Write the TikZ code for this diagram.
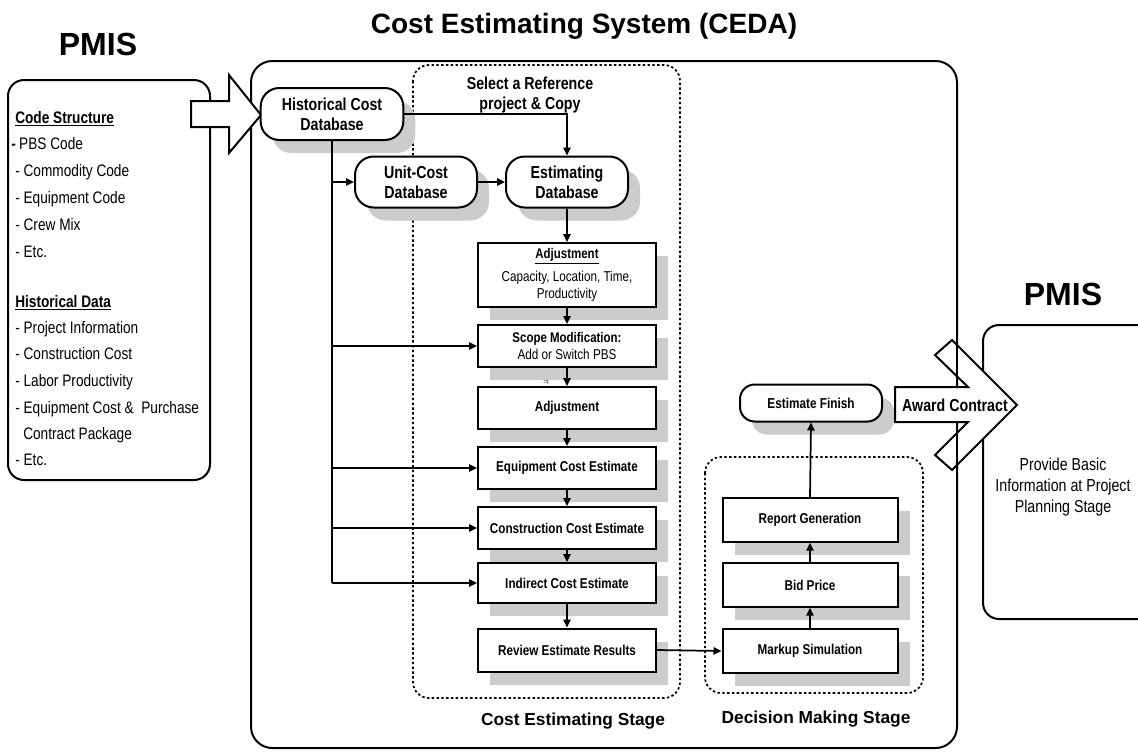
\documentclass[tikz,border=0pt]{standalone}
\usepackage{fontspec}
\setmainfont{Liberation Sans}
\newfontfamily\nf[FakeStretch=0.82]{Liberation Sans}
\newfontfamily\krf{Noto Sans CJK KR}
\usetikzlibrary{shadows,arrows.meta}
\begin{document}
\begin{tikzpicture}[x=0.75pt,y=-0.75pt,
  shd/.style={drop shadow={shadow xshift=9pt,shadow yshift=-9.75pt,opacity=1,fill=black!20,draw=none}},
  term/.style={draw,line width=1.5pt,fill=white,rounded corners=14pt,inner sep=0pt,align=center,
    font=\nf\bfseries\fontsize{13}{15}\selectfont,shd},
  pbox/.style={draw,line width=1.5pt,fill=white,inner sep=0pt,align=center,
    minimum width=133.5pt,minimum height=31.5pt,font=\nf\bfseries\fontsize{10.7}{12.8}\selectfont,shd},
  arr/.style={line width=1.3pt,-{Triangle[length=6pt,width=5.5pt]}},
  ln/.style={line width=1.3pt},
  stagebox/.style={dash pattern=on 1.8pt off 1.8pt,line width=1.3pt,rounded corners=12pt},
  cont/.style={line width=1.5pt,rounded corners=12pt},
  lt/.style={anchor=base west,inner sep=0pt,font=\nf\fontsize{12.5}{15}\selectfont},
  big/.style={anchor=base,inner sep=0pt,font=\bfseries\fontsize{24}{28}\selectfont},
  stagelbl/.style={anchor=base,inner sep=0pt,font=\bfseries\fontsize{13}{15}\selectfont}
]
\useasboundingbox (0,0) rectangle (1138,751);
\clip (0,0) rectangle (1138,751);

% titles
\node[anchor=base,inner sep=0pt,font=\bfseries\fontsize{21}{25}\selectfont] (title) at (584,33) {Cost Estimating System (CEDA)};
\node[big] (pmisL) at (98,55) {PMIS};
\node[big] (pmisR) at (1063,305) {PMIS};

% containers
\draw[cont] (8,80) rectangle (210,480);
\draw[cont,rounded corners=16pt] (251,61) rectangle (957,748);
\draw[cont] (983,325) rectangle (1160,619);
\draw[stagebox] (413,65) rectangle (680,698);
\draw[stagebox] (705,457) rectangle (923,693);

% left input arrow
\draw[line width=1.5pt,fill=white,line join=miter] (191,101) -- (229,101) -- (229,75) -- (261,115) -- (229,153) -- (229,127) -- (191,127) -- cycle;

% left list
\node[lt] (l0) at (15,123) {\bfseries\underline{Code Structure}};
\node[lt] (l1) at (11,149) {\textbf{-}\hspace{2.5pt}PBS Code};
\node[lt] (l2) at (15,176) {- Commodity Code};
\node[lt] (l3) at (15,203) {- Equipment Code};
\node[lt] (l4) at (15,230) {- Crew Mix};
\node[lt] (l5) at (15,257) {- Etc.};
\node[lt] (l6) at (15,307) {\bfseries\underline{Historical Data}};
\node[lt] (l7) at (15,333) {- Project Information};
\node[lt] (l8) at (15,359) {- Construction Cost};
\node[lt] (l9) at (15,386) {- Labor Productivity};
\node[lt] (l10) at (15,413) {- Equipment Cost \& \ Purchase};
\node[lt] (l11) at (23,439) {Contract Package};
\node[lt] (l12) at (15,465) {- Etc.};

% select label
\node[align=center,inner sep=0pt,font=\nf\bfseries\fontsize{13}{15}\selectfont] (sel) at (530,95) {Select a Reference\\project \& Copy};

% terminators
\node[term,minimum width=107pt,minimum height=39pt] (hist) at (332,114) {Historical Cost\\Database};
\node[term,minimum width=91.5pt,minimum height=38.25pt] (unit) at (416,182) {Unit-Cost\\Database};
\node[term,minimum width=91.5pt,minimum height=38.25pt] (estdb) at (567,182) {Estimating\\Database};
\node[term,rounded corners=11pt,minimum width=106.5pt,minimum height=27.75pt,font=\nf\bfseries\fontsize{10.8}{13}\selectfont] (finish) at (811,403) {Estimate Finish};

% process boxes
\node[pbox,minimum height=48pt] (adj1) at (567,275) {\fontsize{10.5}{11.25}\selectfont\underline{Adjustment}\\[4.5pt]\mdseries Capacity, Location, Time,\\\mdseries Productivity};
\node[pbox] (scope) at (567,346) {\fontsize{10.5}{12.75}\selectfont Scope Modification:\\\mdseries Add or Switch PBS};
\node[pbox] (adj2) at (567,408) {Adjustment};
\node[pbox] (equip) at (567,468) {Equipment Cost Estimate};
\node[pbox] (constr) at (567,528) {Construction Cost Estimate};
\node[pbox,minimum height=30pt] (indir) at (567,583) {Indirect Cost Estimate};
\node[pbox,minimum height=32.25pt] (review) at (567,650) {Review Estimate Results};
\node[pbox,minimum width=131.25pt,minimum height=32.5pt] (markup) at (810,651) {Markup Simulation};
\node[pbox,minimum width=131.25pt,minimum height=32.5pt] (bid) at (810,585) {Bid Price};
\node[pbox,minimum width=131.25pt,minimum height=32.5pt] (report) at (810,520) {Report Generation};

% stray glyph
\node[inner sep=0pt,font=\krf\fontsize{6}{6}\selectfont,text=black!70] (glyph) at (546,383) {ㅋ};

% connectors
\draw[arr] (hist.east) -| (estdb.north);
\draw[ln] (hist.south) -- (hist.south |- indir.west);
\draw[arr] (hist.south |- unit.west) -- (unit.west);
\draw[arr] (hist.south |- scope.west) -- (scope.west);
\draw[arr] (hist.south |- equip.west) -- (equip.west);
\draw[arr] (hist.south |- constr.west) -- (constr.west);
\draw[arr] (hist.south |- indir.west) -- (indir.west);
\draw[arr] (unit.east) -- (estdb.west);
\draw[arr] (estdb.south) -- (adj1.north);
\draw[arr] (adj1.south) -- (scope.north);
\draw[arr] (scope.south) -- (adj2.north);
\draw[arr] (adj2.south) -- (equip.north);
\draw[arr] (equip.south) -- (constr.north);
\draw[arr] (constr.south) -- (indir.north);
\draw[arr] (indir.south) -- (review.north);
\draw[arr] (review.east) -- (markup.west);
\draw[arr] (markup.north) -- (bid.south);
\draw[arr] (bid.north) -- (report.south);
\draw[arr] (report.north) -- (finish.south);

% award contract arrow
\draw[line width=1.5pt,fill=white,line join=miter] (895,387) -- (968,387) -- (935,355) -- (952,340) -- (1017,405) -- (952,470) -- (935,455) -- (968,422) -- (895,422) -- cycle;
\draw[line width=1.5pt] (957,335) -- (957,387) (957,422) -- (957,475);
\node[inner sep=0pt,font=\nf\bfseries\fontsize{13}{15}\selectfont] (award) at (955,405) {Award Contract};

% right text
\node[align=center,inner sep=0pt,font=\nf\fontsize{13}{15.75}\selectfont] (prov) at (1063,487) {Provide Basic\\Information at Project\\Planning Stage};

% stage labels
\node[stagelbl] (cesl) at (573,725) {Cost Estimating Stage};
\node[stagelbl] (dmsl) at (816,723) {Decision Making Stage};
\end{tikzpicture}
\end{document}
